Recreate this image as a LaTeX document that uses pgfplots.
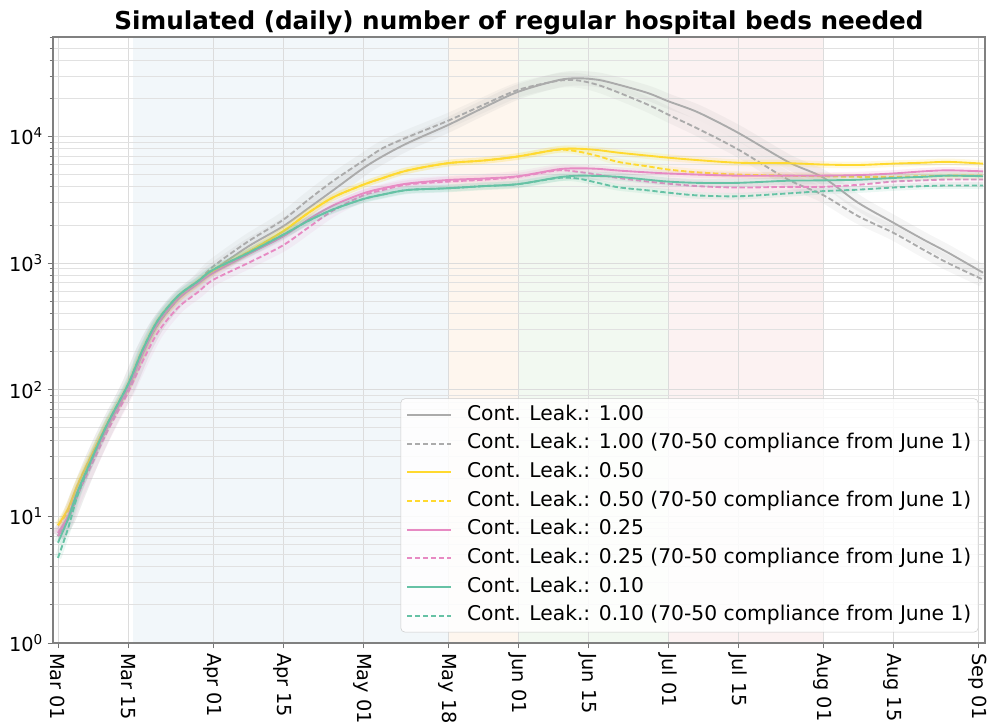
\documentclass[border=0pt]{standalone}
\usepackage{fontspec}
\setmainfont{DejaVu Sans}
\usepackage{pgfplots}
\usepackage{pgfplotstable}
\pgfplotsset{compat=1.18}
\definecolor{cgray}{HTML}{ABABAB}
\definecolor{cyel}{HTML}{FFD92F}
\definecolor{cpink}{HTML}{E78AC3}
\definecolor{cgreen}{HTML}{66C2A5}
\definecolor{shblue}{HTML}{F2F7FA}
\definecolor{shorange}{HTML}{FEF6EE}
\definecolor{shgreen}{HTML}{F2F9F1}
\definecolor{shred}{HTML}{FCF2F2}
\definecolor{gridc}{HTML}{DCDCDC}

\pgfplotstableread{
d   g     gd    y     yd    p     pd    gr    grd
0   7     7     8.5   8.5   7.4   7.0   6.2   4.7
2   9.5   9.5   11.5  11    10    9.5   9.5   8
4   15    15    18    18    16    15    16    15
7   29    29    32    32    29    27    30    30
10  52    52    55    55    52    48    55    55
14  105   105   105   105   102   95    110   110
17  200   200   200   200   195   170   210   210
20  330   330   340   340   335   285   355   355
24  520   520   525   525   520   445   550   550
28  700   710   700   700   690   590   720   720
31  870   938   857   857   835   736   884   884
38  1350  1480  1220  1220  1170  1000  1200  1200
45  1950  2190  1780  1780  1620  1380  1670  1670
50  2700  3150  2480  2480  2200  1900  2150  2150
55  3750  4450  3300  3300  2850  2600  2650  2650
61  5600  6400  4150  4150  3550  3420  3200  3200
65  7000  8100  4700  4700  3900  3780  3480  3480
70  8900  9900  5400  5400  4250  4180  3780  3780
78  12300 13300 6150  6150  4530  4400  3900  3900
85  16800 17700 6450  6450  4650  4550  4050  4050
92  22500 23300 6950  6950  4850  4800  4200  4200
100 27800 27500 7900  7850  5500  5400  4750  4700
104 28800 27700 8000  7600  5600  5250  4900  4650
108 28000 25500 7800  7000  5550  5000  4870  4300
112 25700 22300 7450  6300  5380  4700  4800  3970
118 22000 17800 7050  5800  5200  4400  4550  3750
122 19000 14900 6800  5480  5100  4240  4400  3600
128 15500 11500 6500  5200  5000  4050  4300  3420
136 10700 7900  6200  5000  4900  3950  4300  3370
146 6300  4570  6150  4900  4900  4000  4470  3550
153 4750  3450  6000  4850  4900  4000  4500  3700
160 3000  2350  5950  4800  4950  4150  4550  3800
167 2090  1740  6100  4800  5100  4400  4700  3950
173 1540  1280  6200  4850  5300  4500  4800  4050
178 1210  1000  6300  4900  5400  4570  4900  4100
185 840   740   6100  4900  5300  4570  4850  4100
}\data

\begin{document}
\begin{tikzpicture}
\begin{axis}[
  name=ax, set layers, scale only axis,
  width=699pt, height=454.5pt,
  ymode=log, xmin=-1, xmax=185.4, ymin=1, ymax=61000,
  xtick={0,14,31,45,61,78,92,106,122,136,153,167,184},
  xticklabels={Mar 01,Mar 15,Apr 01,Apr 15,May 01,May 18,Jun 01,Jun 15,Jul 01,Jul 15,Aug 01,Aug 15,Sep 01},
  xticklabel style={rotate=-90, anchor=west, font=\fontsize{14.5}{17}\selectfont},
  ytick={1,10,100,1000,10000},
  yticklabels={10\textsuperscript{0},10\textsuperscript{1},10\textsuperscript{2},10\textsuperscript{3},10\textsuperscript{4}},
  minor ytick={2,3,4,5,6,7,8,9,20,30,40,50,60,70,80,90,200,300,400,500,600,700,800,900,2000,3000,4000,5000,6000,7000,8000,9000,20000,30000,40000,50000,60000},
  yticklabel style={font=\fontsize{14.5}{17}\selectfont},
  xmajorgrids, ymajorgrids, yminorgrids,
  major grid style={gridc, line width=0.6pt},
  minor grid style={gridc!85, line width=0.6pt},
  tick align=outside, tick pos=left,
  major tick length=4pt, minor tick length=2.5pt,
  tick style={black!55, line width=0.6pt},
  axis line style={black!50, line width=0.8pt},
  title={Simulated (daily) number of regular hospital beds needed},
  title style={font=\bfseries\fontsize{18.5}{22}\selectfont, at={(0.5,1)}, anchor=base, yshift=-0.4pt},
  legend style={at={(1,0)}, anchor=south east, xshift=-5pt, yshift=8pt,
    draw=black!20, rounded corners=3pt, fill=white, fill opacity=0.85, text opacity=1,
    font=\fontsize{15.2}{18}\selectfont, row sep=5pt, inner sep=4pt,
    nodes={inner sep=1pt, text height=11pt, text depth=3.5pt}},
  legend cell align=left,
  legend image code/.code={\draw[#1] (0pt,0pt) -- (33pt,0pt); \path[draw=none] (0pt,0pt) -- (44pt,0pt);},
]
% shaded periods
\addplot[draw=none, fill=shblue, forget plot, on layer=axis background] coordinates {(15,1) (78,1) (78,61000) (15,61000)} -- cycle;
\addplot[draw=none, fill=shorange, forget plot, on layer=axis background] coordinates {(78,1) (92,1) (92,61000) (78,61000)} -- cycle;
\addplot[draw=none, fill=shgreen, forget plot, on layer=axis background] coordinates {(92,1) (122,1) (122,61000) (92,61000)} -- cycle;
\addplot[draw=none, fill=shred, forget plot, on layer=axis background] coordinates {(122,1) (153,1) (153,61000) (122,61000)} -- cycle;

% gray
\addplot[cgray, line width=11pt, opacity=0.12, smooth, line join=round, forget plot] table[x=d,y=g] {\data};
\addplot[cgray, line width=1.4pt, smooth] table[x=d,y=g] {\data};
\addlegendentry{Cont. Leak.: 1.00}
\addplot[cgray, line width=11pt, opacity=0.10, smooth, line join=round, forget plot] table[x=d,y=gd] {\data};
\addplot[cgray, line width=1.4pt, smooth, dash pattern=on 4pt off 2pt] table[x=d,y=gd] {\data};
\addlegendentry{Cont. Leak.: 1.00 (70-50 compliance from June 1)}
% yellow
\addplot[cyel, line width=5pt, opacity=0.15, smooth, line join=round, forget plot] table[x=d,y=y] {\data};
\addplot[cyel, line width=1.4pt, smooth] table[x=d,y=y] {\data};
\addlegendentry{Cont. Leak.: 0.50}
\addplot[cyel, line width=5pt, opacity=0.12, smooth, line join=round, forget plot] table[x=d,y=yd] {\data};
\addplot[cyel, line width=1.4pt, smooth, dash pattern=on 4pt off 2pt] table[x=d,y=yd] {\data};
\addlegendentry{Cont. Leak.: 0.50 (70-50 compliance from June 1)}
% pink
\addplot[cpink, line width=5pt, opacity=0.15, smooth, line join=round, forget plot] table[x=d,y=p] {\data};
\addplot[cpink, line width=1.4pt, smooth] table[x=d,y=p] {\data};
\addlegendentry{Cont. Leak.: 0.25}
\addplot[cpink, line width=9pt, opacity=0.10, smooth, line join=round, forget plot] table[x=d,y=pd] {\data};
\addplot[cpink, line width=1.4pt, smooth, dash pattern=on 4pt off 2pt] table[x=d,y=pd] {\data};
\addlegendentry{Cont. Leak.: 0.25 (70-50 compliance from June 1)}
% green
\addplot[cgreen, line width=6pt, opacity=0.15, smooth, line join=round, forget plot] table[x=d,y=gr] {\data};
\addplot[cgreen, line width=1.4pt, smooth] table[x=d,y=gr] {\data};
\addlegendentry{Cont. Leak.: 0.10}
\addplot[cgreen, line width=5pt, opacity=0.12, smooth, line join=round, forget plot] table[x=d,y=grd] {\data};
\addplot[cgreen, line width=1.4pt, smooth, dash pattern=on 4pt off 2pt] table[x=d,y=grd] {\data};
\addlegendentry{Cont. Leak.: 0.10 (70-50 compliance from June 1)}
\end{axis}
\pgfresetboundingbox
\path[use as bounding box] ([xshift=-39.75pt,yshift=-60.75pt]ax.south west) rectangle ([xshift=4.5pt,yshift=27.75pt]ax.north east);
\end{tikzpicture}
\end{document}
